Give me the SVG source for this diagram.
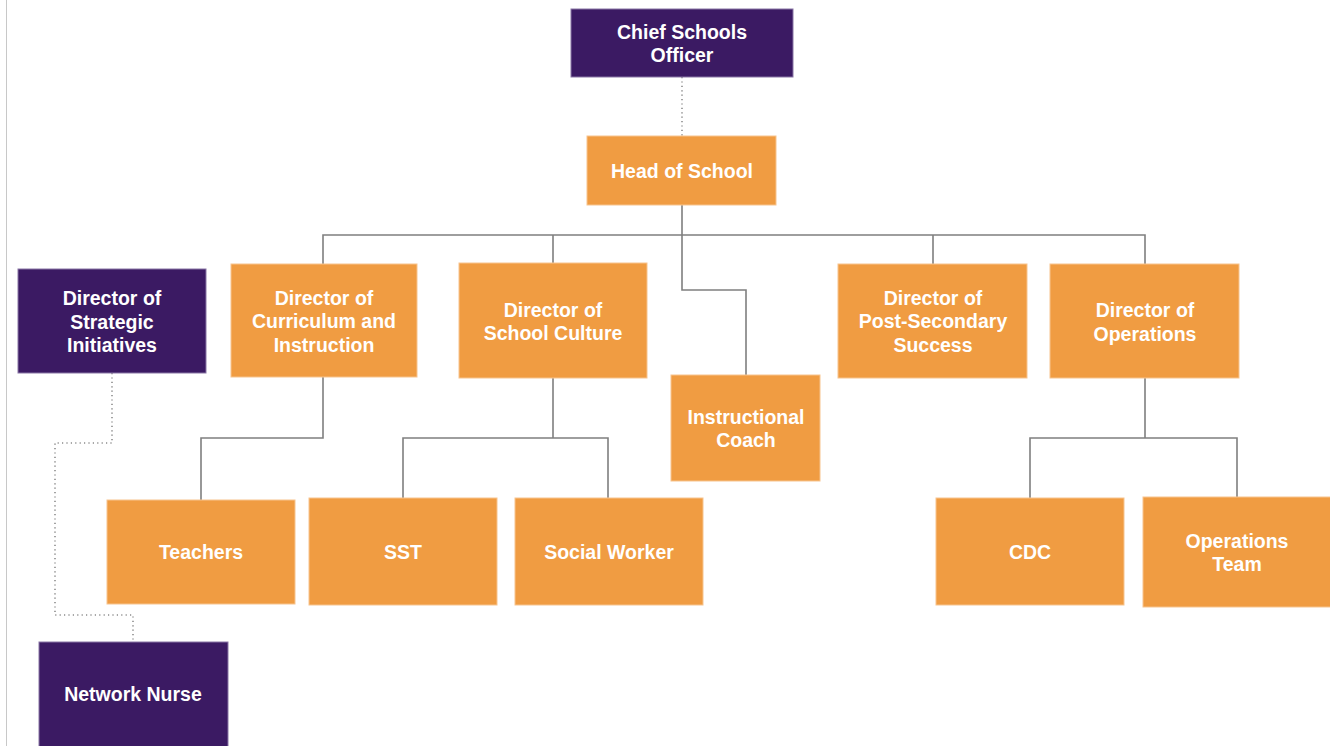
<svg xmlns="http://www.w3.org/2000/svg" width="1330" height="746" viewBox="0 0 1330 746">
<style>
.o{fill:#F09C42;stroke:#F7C48E;stroke-width:1}
.p{fill:#3B1A63;stroke:#8A76A6;stroke-width:1}
text{font-family:"Liberation Sans",Arial,sans-serif;font-weight:bold;font-size:19.5px;fill:#fff;text-anchor:middle}
.c{fill:none;stroke:#7F7F7F;stroke-width:1.6}
.d{fill:none;stroke:#8C8C8C;stroke-width:1.6;stroke-dasharray:1.2 3.2}
</style>
<rect width="1330" height="746" fill="#fff"/>
<line x1="6.5" y1="0" x2="6.5" y2="746" stroke="#C8C8C8" stroke-width="1"/>
<g id="connectors">
<path class="d" d="M682 77V136"/>
<path class="d" d="M112 373V443H55V615H133V642"/>
<path class="c" d="M682 205V235M323 264V235H1145V264M553 235V264M933 235V264"/>
<path class="c" d="M682 235V290H746V375"/>
<path class="c" d="M323 377V438H201V500M553 378V438H403V498M553 438H608V498"/>
<path class="c" d="M1145 378V438H1030V498M1145 438H1237V497"/>
</g>
<g id="chief"><rect class="p" x="571" y="9" width="222" height="68"/><text x="682" y="39">Chief Schools</text><text x="682" y="62">Officer</text></g>
<g id="head"><rect class="o" x="587" y="136" width="189" height="69"/><text x="682" y="178">Head of School</text></g>
<g id="strategic"><rect class="p" x="18" y="269" width="188" height="104"/><text x="112" y="305">Director of</text><text x="112" y="329">Strategic</text><text x="112" y="352">Initiatives</text></g>
<g id="curriculum"><rect class="o" x="231" y="264" width="186" height="113"/><text x="324" y="305">Director of</text><text x="324" y="328">Curriculum and</text><text x="324" y="352">Instruction</text></g>
<g id="culture"><rect class="o" x="459" y="263" width="188" height="115"/><text x="553" y="317">Director of</text><text x="553" y="340">School Culture</text></g>
<g id="coach"><rect class="o" x="671" y="375" width="149" height="106"/><text x="746" y="424">Instructional</text><text x="746" y="447">Coach</text></g>
<g id="postsecondary"><rect class="o" x="838" y="264" width="189" height="114"/><text x="933" y="305">Director of</text><text x="933" y="328">Post-Secondary</text><text x="933" y="352">Success</text></g>
<g id="operations"><rect class="o" x="1050" y="264" width="189" height="114"/><text x="1145" y="317">Director of</text><text x="1145" y="341">Operations</text></g>
<g id="teachers"><rect class="o" x="107" y="500" width="188" height="104"/><text x="201" y="559">Teachers</text></g>
<g id="sst"><rect class="o" x="309" y="498" width="188" height="107"/><text x="403" y="559">SST</text></g>
<g id="socialworker"><rect class="o" x="515" y="498" width="188" height="107"/><text x="609" y="559">Social Worker</text></g>
<g id="cdc"><rect class="o" x="936" y="498" width="188" height="107"/><text x="1030" y="559">CDC</text></g>
<g id="opsteam"><rect class="o" x="1143" y="497" width="190" height="110"/><text x="1237" y="548">Operations</text><text x="1237" y="571">Team</text></g>
<g id="nurse"><rect class="p" x="39" y="642" width="189" height="108"/><text x="133" y="701">Network Nurse</text></g>
</svg>
